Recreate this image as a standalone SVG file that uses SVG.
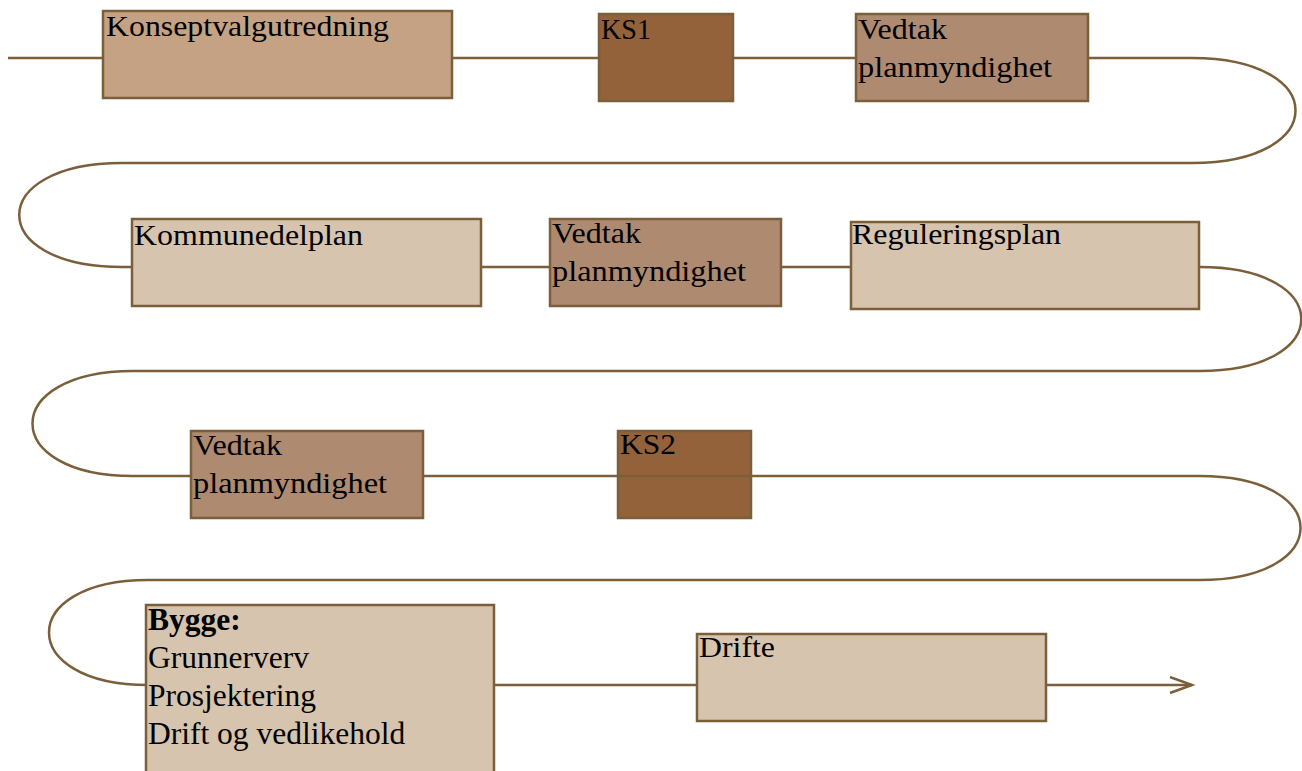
<svg xmlns="http://www.w3.org/2000/svg" width="1302" height="771" viewBox="0 0 1302 771">
<style>
.box{stroke:#7a5f3a;stroke-width:2.5}
.c1{fill:#c4a283}
.ks{fill:#93623a}
.vd{fill:#ad8a70}
.lt{fill:#d6c4ae}
.t{font-family:"Liberation Serif","Times New Roman",serif;font-size:29px;fill:#000}
.b{font-family:"Liberation Serif","Times New Roman",serif;font-size:31.5px;fill:#000}
.ln{fill:none;stroke:#7a5f3a;stroke-width:2.5}
</style>
<defs>
<marker id="arr" markerWidth="26" markerHeight="20" refX="23" refY="9" orient="auto" markerUnits="userSpaceOnUse">
<path d="M1,1 L23,9 L1,17" fill="none" stroke="#7a5f3a" stroke-width="2.5"/>
</marker>
</defs>
<g id="n-ks2"><rect class="box ks" x="618" y="431" width="133" height="87"/><text class="t" x="620" y="454" textLength="56" lengthAdjust="spacingAndGlyphs">KS2</text></g>
<g id="connectors">
<path class="ln" d="M8,58 H1192 C1330,58 1330,163 1192,163 H122 C-15,163 -15,267 122,267 H1200 C1335,267 1335,371 1200,371 H133 C-1,371 -1,476 133,476 H1200 C1334,476 1334,580 1200,580 H148 C16,580 16,685 148,685 H1192" marker-end="url(#arr)"/>
</g>
<g id="n-kvu"><rect class="box c1" x="103" y="11" width="349" height="87"/><text class="t" x="106" y="36" textLength="283" lengthAdjust="spacingAndGlyphs">Konseptvalgutredning</text></g>
<g id="n-ks1"><rect class="box ks" x="599" y="14" width="134" height="87"/><text class="t" x="601" y="39" textLength="50" lengthAdjust="spacingAndGlyphs">KS1</text></g>
<g id="n-vedtak1"><rect class="box vd" x="856" y="14" width="232" height="87"/><text class="t" x="858" y="39" textLength="89" lengthAdjust="spacingAndGlyphs">Vedtak</text><text class="t" x="858" y="77" textLength="194" lengthAdjust="spacingAndGlyphs">planmyndighet</text></g>
<g id="n-kdp"><rect class="box lt" x="132" y="219" width="349" height="87"/><text class="t" x="134" y="245" textLength="229" lengthAdjust="spacingAndGlyphs">Kommunedelplan</text></g>
<g id="n-vedtak2"><rect class="box vd" x="550" y="219" width="231" height="87"/><text class="t" x="552" y="243" textLength="89" lengthAdjust="spacingAndGlyphs">Vedtak</text><text class="t" x="552" y="281" textLength="194" lengthAdjust="spacingAndGlyphs">planmyndighet</text></g>
<g id="n-reg"><rect class="box lt" x="851" y="222" width="348" height="87"/><text class="t" x="852" y="244" textLength="209" lengthAdjust="spacingAndGlyphs">Reguleringsplan</text></g>
<g id="n-vedtak3"><rect class="box vd" x="191" y="431" width="232" height="87"/><text class="t" x="193" y="455" textLength="89" lengthAdjust="spacingAndGlyphs">Vedtak</text><text class="t" x="193" y="493" textLength="194" lengthAdjust="spacingAndGlyphs">planmyndighet</text></g>
<g id="n-bygge"><rect class="box lt" x="146" y="605" width="348" height="180"/>
<text class="b" x="148" y="630" font-weight="bold">Bygge:</text>
<text class="b" x="148" y="668">Grunnerverv</text>
<text class="b" x="148" y="706">Prosjektering</text>
<text class="b" x="148" y="744">Drift og vedlikehold</text></g>
<g id="n-drifte"><rect class="box lt" x="697" y="634" width="349" height="87"/><text class="t" x="699" y="657" textLength="76" lengthAdjust="spacingAndGlyphs">Drifte</text></g>
</svg>
